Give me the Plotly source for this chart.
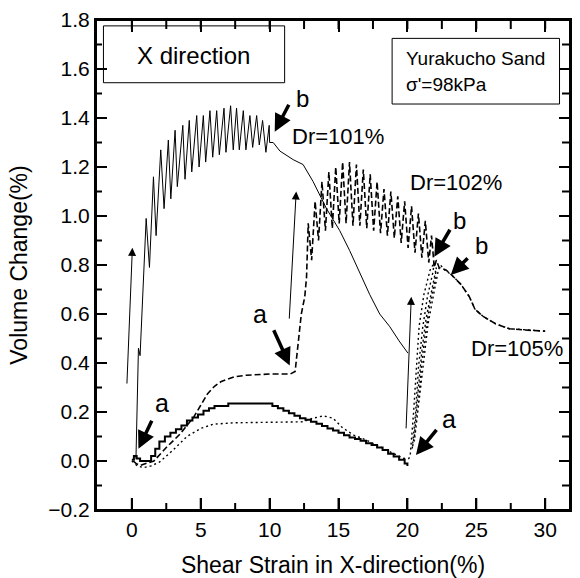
import plotly.graph_objects as go

# ---------------- data ----------------
# Dr=101% : upper cyclic branch (thin solid)
s_up_x = [0.30, 0.48, 0.60, 0.84, 1.04, 1.28, 1.57, 1.76, 2.10, 2.34, 2.65, 2.83, 3.14, 3.30,
          3.70, 3.86, 4.17, 4.35, 4.71, 4.88, 5.19, 5.36, 5.67, 5.87, 6.16, 6.35, 6.69, 6.83,
          7.17, 7.36, 7.60, 7.80, 8.09, 8.28, 8.57, 8.77, 9.06, 9.25, 9.49, 9.73, 9.97, 10.00,
          10.26, 10.75, 11.71, 12.43, 13.16, 14.13, 15.09, 15.80, 16.55, 17.26, 17.99, 18.70,
          19.40, 20.04]
s_up_y = [0.01, 0.46, 0.43, 0.73, 0.99, 0.79, 1.16, 0.92, 1.27, 1.03, 1.31, 1.07, 1.35, 1.12,
          1.37, 1.15, 1.39, 1.18, 1.41, 1.20, 1.41, 1.22, 1.43, 1.24, 1.43, 1.25, 1.44, 1.26,
          1.45, 1.27, 1.44, 1.27, 1.43, 1.27, 1.41, 1.28, 1.41, 1.29, 1.39, 1.26, 1.37, 1.30,
          1.30, 1.265, 1.23, 1.21, 1.14, 1.03, 0.94, 0.86, 0.77, 0.68, 0.60, 0.55,
          0.49, 0.44]

# Dr=101% : lower monotonic branch (thick solid, stepped)
s_lo_x = [0.00, 0.15, 0.35, 0.60, 1.10, 1.40, 1.70, 2.00, 2.40, 2.80, 3.20, 3.60, 4.00, 4.40,
          4.80, 5.20, 5.60, 6.00, 7.00, 9.80, 10.20, 10.60, 11.00, 11.40, 11.80, 12.20, 12.60,
          13.00, 13.40, 13.80, 14.20, 14.60, 15.00, 15.40, 15.80, 16.20, 16.60, 17.00, 17.40,
          17.80, 18.20, 18.60, 19.00, 19.40, 19.80, 20.00]
s_lo_y = [0.005, 0.02, 0.01, 0.0, 0.0, 0.02, 0.05, 0.08, 0.10, 0.115, 0.13, 0.145, 0.165, 0.178,
          0.19, 0.205, 0.215, 0.225, 0.235, 0.235, 0.225, 0.215, 0.205, 0.195, 0.185, 0.175, 0.168,
          0.16, 0.152, 0.143, 0.133, 0.125, 0.115, 0.105, 0.096, 0.09, 0.083, 0.072, 0.065,
          0.055, 0.045, 0.03, 0.018, 0.005, -0.01, -0.02]

# Dr=102% (dashed)
d_x = [0.10, 0.30, 0.60, 1.00, 1.60, 2.50, 3.50, 4.50, 5.00, 5.50, 6.00, 6.50, 7.40, 8.30,
       10.00, 11.50, 11.85, 11.95, 12.10, 12.30, 12.55, 12.68,
       12.80, 13.05, 13.30, 13.55, 13.80, 14.05, 14.30, 14.55, 14.80, 15.05, 15.30, 15.55,
       15.80, 16.05, 16.30, 16.55, 16.80, 17.05, 17.30, 17.55, 17.80, 18.05, 18.30, 18.55,
       18.80, 19.05, 19.30, 19.55, 19.80, 20.05, 20.30, 20.55, 20.80, 21.05, 21.30, 21.55,
       21.75, 21.95, 22.10,
       22.30, 22.80, 23.20, 23.90, 24.50, 24.90, 25.50, 26.40, 27.40, 28.40, 30.00]
d_y = [0.0, -0.01, -0.018, -0.01, 0.0, 0.055, 0.11, 0.18, 0.23, 0.275, 0.305, 0.325, 0.343, 0.35,
       0.355, 0.355, 0.365, 0.42, 0.48, 0.60, 0.67, 0.75,
       0.97, 0.82, 1.06, 0.90, 1.14, 0.94, 1.18, 0.95, 1.20, 0.97, 1.22, 0.97,
       1.22, 0.96, 1.21, 0.96, 1.19, 0.95, 1.17, 0.94, 1.14, 0.93, 1.11, 0.92,
       1.10, 0.91, 1.08, 0.89, 1.06, 0.87, 1.04, 0.85, 1.01, 0.83, 0.98, 0.81,
       0.92, 0.79, 0.82,
       0.79, 0.78, 0.76, 0.72, 0.67, 0.62, 0.59, 0.56, 0.54, 0.535, 0.53]

# Dr=105% (dotted)
p_x = [0.00, 0.40, 0.85, 1.40, 2.00, 3.00, 4.00, 5.00, 5.90, 7.40, 10.00, 12.40, 13.10, 13.90,
       14.60, 15.30, 16.10, 17.00, 18.00, 19.00, 19.70, 20.10,
       20.20, 20.45, 20.65, 20.85, 21.20, 21.65, 21.95,
       21.85, 21.45, 21.10, 20.80, 20.60, 20.35,
       20.50, 20.80, 21.05, 21.35, 21.75, 22.10,
       22.00, 21.60, 21.30, 21.00, 20.75, 20.50,
       20.90, 21.20, 21.50, 21.90, 22.25, 22.40,
       22.70, 23.20, 23.90, 24.50, 24.90, 25.50, 26.40, 27.40, 28.40, 30.00]
p_y = [0.0, -0.02, -0.027, -0.02, -0.005, 0.045, 0.10, 0.133, 0.15, 0.156, 0.158, 0.16, 0.174, 0.184,
       0.175, 0.135, 0.106, 0.086, 0.058, 0.031, 0.011, 0.01,
       0.02, 0.20, 0.40, 0.55, 0.68, 0.78, 0.81,
       0.77, 0.67, 0.54, 0.38, 0.20, 0.05,
       0.10, 0.30, 0.45, 0.58, 0.70, 0.79,
       0.74, 0.63, 0.52, 0.38, 0.20, 0.08,
       0.25, 0.42, 0.56, 0.68, 0.78, 0.80,
       0.78, 0.76, 0.72, 0.67, 0.62, 0.59, 0.56, 0.54, 0.535, 0.53]

x_ticks = [0, 5, 10, 15, 20, 25, 30]
x_minor = [2.5, 7.5, 12.5, 17.5, 22.5, 27.5]
y_ticks = [-0.2, 0.0, 0.2, 0.4, 0.6, 0.8, 1.0, 1.2, 1.4, 1.6, 1.8]
y_minor = [-0.1, 0.1, 0.3, 0.5, 0.7, 0.9, 1.1, 1.3, 1.5, 1.7]

X_RANGE = [-2.6, 31.8]
Y_RANGE = [-0.2, 1.8]
W, H = 580, 578
ML, MR, MT, MB = 96, 10, 20, 68

FONT = "Liberation Sans, Arial, sans-serif"

fig = go.Figure()

# inside tick marks on all four sides, built from the tick arrays (pixel lengths -> data units)
px_x = (X_RANGE[1] - X_RANGE[0]) / (W - ML - MR)
px_y = (Y_RANGE[1] - Y_RANGE[0]) / (H - MT - MB)
tx, ty = [], []
for vals, ln in ((x_ticks, 12), (x_minor, 7)):
    for v in vals:
        tx += [v, v, None, v, v, None]
        ty += [Y_RANGE[0], Y_RANGE[0] + ln * px_y, None,
               Y_RANGE[1], Y_RANGE[1] - 9 * px_y, None]
for vals, ln in ((y_ticks, 11), (y_minor, 6)):
    for v in vals:
        tx += [X_RANGE[0], X_RANGE[0] + ln * px_x, None,
               X_RANGE[1], X_RANGE[1] - 8 * px_x, None]
        ty += [v, v, None, v, v, None]
fig.add_trace(go.Scatter(x=tx, y=ty, mode="lines", line=dict(color="#000000", width=2),
                         connectgaps=False, showlegend=False, hoverinfo="skip"))

fig.add_trace(go.Scatter(x=s_up_x, y=s_up_y, mode="lines",
                         line=dict(color="black", width=1), showlegend=False))
fig.add_trace(go.Scatter(x=s_lo_x, y=s_lo_y, mode="lines",
                         line=dict(color="black", width=2, shape="hv"), showlegend=False))
fig.add_trace(go.Scatter(x=d_x, y=d_y, mode="lines",
                         line=dict(color="black", width=1.6, dash="6px,3px"), showlegend=False))
fig.add_trace(go.Scatter(x=p_x, y=p_y, mode="lines",
                         line=dict(color="black", width=1.4, dash="2px,3px"), showlegend=False))

ann = []
def txt(x, y, t, size, xanchor="center"):
    ann.append(dict(x=x, y=y, xref="x", yref="y", text=t, showarrow=False,
                    font=dict(family=FONT, size=size, color="black"), xanchor=xanchor,
                    yanchor="middle"))

def arrow(tx_, ty_, hx, hy, w, size=1.0):
    ann.append(dict(x=hx, y=hy, ax=tx_, ay=ty_, xref="x", yref="y", axref="x", ayref="y",
                    text="", showarrow=True, arrowhead=2, arrowsize=size, arrowwidth=w,
                    arrowcolor="black", standoff=0, startstandoff=0))

# thin rising arrows
arrow(-0.36, 0.31, 0.04, 0.87, 1, 1.6)
arrow(11.42, 0.575, 11.93, 1.10, 1, 1.6)
arrow(19.90, 0.127, 20.28, 0.67, 1, 1.6)

# thick a / b arrows
arrow(1.50, 0.17, 0.48, 0.05, 3.5)
arrow(10.25, 0.54, 11.46, 0.39, 3.5)
arrow(22.20, 0.133, 20.62, 0.024, 3.5)
arrow(11.45, 1.46, 10.37, 1.344, 3.5)
arrow(23.15, 0.95, 21.95, 0.834, 3.5)
arrow(24.48, 0.834, 23.15, 0.759, 3.5)

txt(2.2, 0.235, "a", 25)
txt(9.3, 0.60, "a", 25)
txt(23.05, 0.17, "a", 25)
txt(12.42, 1.48, "b", 24)
txt(23.76, 0.98, "b", 24)
txt(25.4, 0.88, "b", 24)

txt(14.95, 1.324, "Dr=101%", 22)
txt(23.52, 1.136, "Dr=102%", 22)
txt(27.97, 0.46, "Dr=105%", 22)

txt(4.46, 1.657, "X direction", 24)
txt(19.78, 1.644, "Yurakucho Sand", 19, "left")
txt(19.78, 1.535, "σ'=98kPa", 19, "left")

shapes = [
    dict(type="rect", xref="x", yref="y", x0=-2.06, x1=11.09, y0=1.544, y1=1.776,
         line=dict(color="black", width=1), fillcolor="rgba(0,0,0,0)"),
    dict(type="rect", xref="x", yref="y", x0=18.89, x1=31.04, y0=1.457, y1=1.725,
         line=dict(color="black", width=1), fillcolor="rgba(0,0,0,0)"),
    dict(type="rect", xref="paper", yref="paper", x0=0, x1=1, y0=0, y1=1,
         line=dict(color="black", width=2), fillcolor="rgba(0,0,0,0)"),
]

fig.update_layout(
    width=W, height=H,
    margin=dict(l=ML, r=MR, t=MT, b=MB, autoexpand=False),
    paper_bgcolor="white", plot_bgcolor="white",
    xaxis=dict(range=X_RANGE, tickvals=x_ticks, ticks="inside", ticklen=12, tickwidth=2,
               tickcolor="#000000",
               showgrid=False, zeroline=False, showline=True, linecolor="black",
               linewidth=2, mirror="ticks",
               tickfont=dict(family=FONT, size=21, color="black"),
               title=dict(text="Shear Strain in X-direction(%)", standoff=20,
                          font=dict(family=FONT, size=23, color="black")),
               automargin=False),
    yaxis=dict(range=Y_RANGE, tickvals=y_ticks, tickformat=".1f", ticks="inside", ticklen=11,
               tickwidth=2, tickcolor="#000000",
               showgrid=False, zeroline=False, showline=True, linecolor="black",
               linewidth=2, mirror="ticks",
               tickfont=dict(family=FONT, size=21, color="black"),
               title=dict(text="Volume Change(%)", standoff=14,
                          font=dict(family=FONT, size=23, color="black")),
               automargin=False),
    annotations=ann, shapes=shapes,
)

fig.write_html("out.html", post_script="document.body.style.margin='0px';",
               config={"displayModeBar": False})
